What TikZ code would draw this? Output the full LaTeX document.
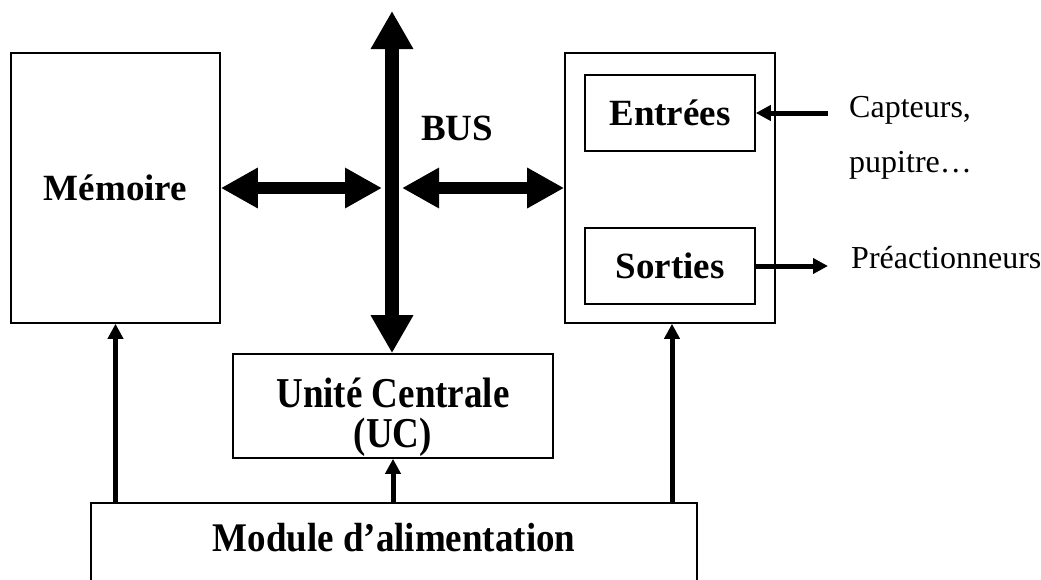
\documentclass[tikz,border=0pt]{standalone}
\usepackage{fontspec}
\usepackage{graphicx}
\setmainfont{Liberation Serif}
\usetikzlibrary{arrows.meta}
\begin{document}
\begin{tikzpicture}[x=1pt,y=-1pt,
  box/.style={draw, line width=1.6pt, inner sep=0pt, font=\bfseries\fontsize{37}{40}\selectfont},
  boldtxt/.style={inner sep=0pt, font=\bfseries\fontsize{37}{40}\selectfont},
  busarrow/.style={line width=14pt, {Triangle[length=38pt,width=40pt]}-{Triangle[length=38pt,width=40pt]}},
  hbus/.style={line width=12pt, {Triangle[length=37pt,width=38pt]}-{Triangle[length=37pt,width=38pt]}},
  thinarrow/.style={line width=5pt, -{Triangle[length=15pt,width=15pt]}},
  lbl/.style={font=\fontsize{32}{36}\selectfont, inner sep=0pt, anchor=base west}]
\useasboundingbox (0,0) rectangle (1041,579);
\node[box, minimum width=209pt, minimum height=270pt] (mem) at (115.5,188) {Mémoire};
\node[box, minimum width=210pt, minimum height=270pt] (io) at (670,188) {};
\node[box, minimum width=170pt, minimum height=76pt] (ent) at (670,113) {Entrées};
\node[box, minimum width=170pt, minimum height=76pt] (sor) at (670,266) {Sorties};
\node[box, minimum width=320pt, minimum height=104pt] (uc) at (393,406) {};
\node[boldtxt, align=center] (uctxt) at (393,417)
  {\scalebox{1}[1.15]{Unité Centrale}\\\scalebox{1}[1.15]{(UC)}};
\node[box, minimum width=606pt, minimum height=100pt] (mod) at (394,553) {};
\node[boldtxt] (modtxt) at (394,538) {\scalebox{1}[1.1]{Module d’alimentation}};
\node[boldtxt] (buslbl) at (457,128) {BUS};
\coordinate (bustop) at (392,11);
\coordinate (busL) at (382,188);
\coordinate (busR) at (402,188);
\coordinate (cap) at (828,113);
\coordinate (pre) at (828,266);
\draw[busarrow] (bustop) -- (bustop |- uc.north);
\draw[hbus] (mem.east) -- (busL);
\draw[hbus] (busR) -- (io.west);
\draw[thinarrow] (cap) -- (ent.east);
\draw[thinarrow] (sor.east) -- (pre);
\draw[thinarrow] (mem.south |- mod.north) -- (mem.south);
\draw[thinarrow] (uc.south |- mod.north) -- (uc.south);
\draw[thinarrow] ([xshift=2pt]io.south |- mod.north) -- ([xshift=2pt]io.south);
\node[lbl] (capt) at (849,117) {Capteurs,};
\node[lbl] (pup) at (849,172) {pupitre…};
\node[lbl] (prea) at (851,268) {Préactionneurs};
\end{tikzpicture}
\end{document}
